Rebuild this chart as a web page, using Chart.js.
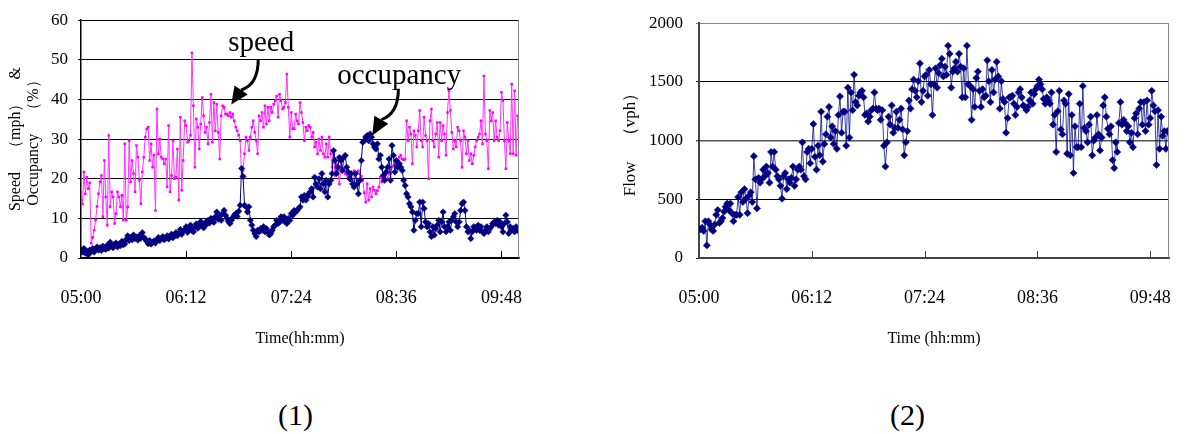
<!DOCTYPE html>
<html>
<head>
<meta charset="utf-8">
<title>Speed, occupancy and flow, 05:00-10:00</title>
<script src="https://cdn.jsdelivr.net/npm/chart.js@4.4.1/dist/chart.umd.min.js"></script>
<style>
  html, body { margin: 0; padding: 0; background: #fff; }
  body { position: relative; width: 1185px; height: 434px; overflow: hidden; }
  canvas { position: absolute; top: 0; }
  #speedChart { left: 0; }
  #flowChart { left: 600px; }
  .caption { position: absolute; top: 398px; font: 30px "Liberation Serif", serif; color: #000; }
</style>
</head>
<body>
<canvas id="speedChart" width="545" height="360"></canvas>
<canvas id="flowChart" width="585" height="360"></canvas>
<div class="caption" style="left:278px">(1)</div>
<div class="caption" style="left:890px">(2)</div>
<script>
// one sample per minute, 05:00 (minute 0) to 10:00 (minute 300)
const SPAN = 300;
const TICK_STEP = 72;
const timeTicks = ['05:00', '06:12', '07:24', '08:36', '09:48'];

// speed (mph)
const speed = [
    14.6, 13.6, 21.7, 16.2, 20.4, 17.5, 19.0, 3.7, 5.2, 7.0,
    9.5, 13.0, 16.2, 19.2, 20.8, 10.4, 24.6, 15.4, 8.3, 30.9,
    12.9, 16.7, 15.4, 8.7, 11.2, 16.7, 15.4, 12.9, 15.8, 9.5,
    28.8, 9.5, 12.9, 29.6, 19.2, 24.6, 21.3, 16.7, 28.4, 25.4,
    19.6, 13.7, 21.7, 25.4, 30.5, 32.6, 33.0, 24.6, 28.8, 22.9,
    26.0, 12.0, 37.6, 26.3, 30.0, 25.4, 25.0, 23.8, 25.0, 17.9,
    33.4, 16.7, 20.8, 29.6, 20.0, 20.4, 27.5, 14.6, 35.5, 17.1,
    24.6, 34.6, 33.4, 29.2, 29.6, 31.0, 51.8, 38.4, 22.9, 35.1,
    33.0, 27.5, 33.8, 40.5, 35.9, 31.7, 33.0, 28.8, 34.2, 41.3,
    29.2, 39.2, 32.1, 38.8, 31.7, 25.0, 35.9, 38.4, 38.0, 36.3,
    36.3, 35.9, 36.7, 35.5, 36.3, 34.6, 33.0, 32.1, 31.0, 29.6,
    20.4, 22.1, 26.3, 30.5, 29.6, 27.1, 30.5, 33.0, 34.6, 31.7,
    29.6, 26.3, 35.9, 34.6, 36.7, 33.0, 38.4, 33.8, 38.0, 34.6,
    38.0, 36.7, 38.8, 39.7, 40.9, 35.5, 41.3, 39.7, 37.6, 38.0,
    39.2, 46.4, 38.0, 30.5, 36.7, 32.6, 32.6, 36.3, 34.6, 33.8,
    39.2, 36.7, 34.2, 29.6, 33.0, 32.1, 33.4, 33.0, 30.5, 31.7,
    28.0, 29.2, 26.3, 30.0, 27.1, 30.5, 26.3, 25.4, 28.8, 25.4,
    30.5, 26.3, 22.9, 26.3, 20.8, 23.8, 21.7, 18.7, 23.3, 21.7,
    22.5, 21.3, 20.9, 20.4, 21.3, 19.5, 19.6, 22.0, 20.9, 21.6,
    22.0, 21.2, 20.6, 19.6, 16.5, 14.1, 18.7, 14.6, 17.5, 15.4,
    17.9, 17.1, 16.2, 17.0, 17.9, 20.4, 19.2, 20.4, 19.6, 21.3,
    20.0, 21.7, 21.3, 22.9, 23.3, 24.6, 23.8, 23.3, 25.4, 25.9,
    25.0, 24.8, 25.0, 34.6, 29.6, 33.0, 31.3, 23.8, 32.1, 30.9,
    28.0, 32.1, 37.2, 29.6, 28.0, 35.5, 30.9, 29.6, 20.0, 34.6,
    37.6, 29.6, 28.0, 31.3, 34.2, 25.4, 34.2, 29.6, 33.4, 31.3,
    25.9, 36.7, 42.2, 37.2, 31.7, 27.5, 29.6, 28.0, 33.0, 32.1,
    29.6, 22.9, 32.1, 30.5, 26.3, 29.6, 24.6, 26.3, 23.8, 25.9,
    28.0, 29.6, 30.5, 31.3, 34.6, 28.8, 45.9, 31.3, 29.6, 22.5,
    37.2, 34.6, 36.7, 29.6, 34.6, 30.5, 29.6, 32.1, 41.8, 39.7,
    29.6, 22.5, 34.2, 29.6, 26.3, 43.9, 26.3, 42.2, 25.9, 35.9,
    35.1
];

// occupancy (%)
const occupancy = [
    2.0, 1.5, 2.4, 1.2, 1.8, 0.8, 2.0, 1.6, 2.4, 1.5,
    2.2, 2.8, 2.0, 2.6, 1.9, 3.0, 2.4, 2.2, 3.2, 2.5,
    4.0, 3.0, 2.6, 3.4, 3.8, 2.8, 3.5, 3.1, 4.2, 3.3,
    3.6, 4.7, 5.6, 4.4, 5.2, 4.6, 5.8, 4.9, 5.3, 4.5,
    5.6, 5.0, 6.4, 5.2, 4.8, 4.2, 3.6, 4.4, 3.5, 4.0,
    4.3, 3.8, 4.6, 5.2, 4.4, 4.9, 5.4, 4.6, 5.0, 5.6,
    4.8, 5.3, 6.0, 5.1, 5.8, 6.4, 5.6, 6.2, 7.2, 6.0,
    6.8, 7.2, 7.9, 6.5, 7.4, 8.3, 7.0, 6.6, 7.8, 8.6,
    7.5, 8.0, 9.2, 8.4, 7.6, 8.9, 8.5, 9.5, 8.8, 10.0,
    9.6, 9.0, 10.4, 11.6, 9.8, 10.6, 9.5, 11.2, 12.0, 10.8,
    10.0, 9.2, 8.7, 9.5, 10.2, 10.8, 11.2, 10.5, 11.8, 13.3,
    22.6, 20.6, 13.3, 12.9, 11.6, 12.9, 9.5, 8.3, 7.0, 6.2,
    5.4, 7.0, 6.6, 7.4, 7.0, 7.9, 6.6, 7.4, 6.6, 5.8,
    6.2, 7.0, 7.9, 8.3, 9.5, 8.7, 9.1, 10.4, 9.5, 10.4,
    9.1, 8.7, 10.0, 9.5, 11.2, 10.8, 12.0, 11.6, 12.0, 12.5,
    12.9, 15.4, 14.6, 15.8, 14.6, 15.4, 16.2, 16.7, 17.5, 15.4,
    20.4, 18.7, 17.9, 20.0, 17.5, 21.3, 18.7, 16.7, 19.6, 15.4,
    18.7, 19.6, 21.3, 27.1, 24.6, 21.3, 22.9, 25.4, 24.6, 22.1,
    25.4, 25.9, 22.9, 21.7, 20.0, 21.3, 18.7, 17.9, 21.3, 18.7,
    16.2, 19.6, 24.6, 29.2, 29.6, 30.5, 30.9, 29.6, 31.3, 30.5,
    28.8, 28.0, 27.5, 28.8, 25.0, 25.9, 22.9, 20.8, 19.6, 21.7,
    22.9, 25.0, 19.6, 28.4, 25.9, 21.7, 24.6, 22.9, 23.8, 22.9,
    22.1, 19.6, 18.3, 16.2, 15.4, 13.7, 12.9, 11.6, 7.0, 9.5,
    11.2, 11.2, 14.1, 7.9, 14.1, 12.5, 9.1, 7.9, 8.7, 6.6,
    5.4, 7.9, 5.8, 7.4, 8.3, 9.5, 6.6, 9.1, 11.6, 7.9,
    6.6, 7.9, 9.1, 7.0, 9.5, 10.4, 11.2, 9.1, 7.9, 9.1,
    12.0, 13.7, 14.1, 12.0, 7.9, 6.6, 7.0, 4.9, 6.6, 7.9,
    7.4, 7.0, 8.3, 7.0, 7.9, 6.6, 6.2, 7.0, 7.9, 6.6,
    7.4, 7.9, 8.7, 9.1, 8.7, 9.5, 8.3, 9.1, 7.9, 6.6,
    8.7, 10.8, 9.1, 6.2, 7.9, 7.0, 7.4, 6.6, 7.9, 7.0,
    7.2
];

// flow (vph)
const flow = [
    250, 244, 258, 231, 313, 107, 313, 285, 244, 231,
    285, 368, 409, 299, 313, 340, 395, 436, 464, 409,
    464, 382, 313, 368, 368, 519, 368, 560, 477, 587,
    505, 382, 532, 560, 477, 867, 670, 423, 683, 642,
    670, 752, 697, 779, 724, 642, 903, 779, 903, 752,
    697, 670, 615, 505, 697, 724, 587, 670, 642, 683,
    779, 615, 670, 752, 779, 752, 985, 697, 670, 903,
    930, 807, 930, 1141, 862, 752, 957, 875, 1246, 821,
    971, 1054, 1204, 1287, 1026, 1122, 971, 1081, 930, 1218,
    1377, 1067, 1246, 1246, 957, 1451, 1026, 1410, 1259, 1561,
    1328, 1300, 1383, 1410, 1424, 1369, 1218, 1232, 1163, 1204,
    1259, 1273, 1410, 1273, 1259, 1273, 1177, 1259, 957, 779,
    985, 1204, 1136, 1300, 1067, 1108, 1246, 1108, 1177, 1273,
    1095, 875, 985, 1081, 1342, 1273, 1438, 1520, 1424, 1369,
    1506, 1657, 1328, 1424, 1547, 1561, 1383, 1602, 1479, 1218,
    1479, 1616, 1451, 1575, 1643, 1698, 1547, 1630, 1561, 1808,
    1739, 1451, 1588, 1616, 1671, 1588, 1739, 1630, 1369, 1616,
    1369, 1808, 1479, 1465, 1177, 1438, 1287, 1534, 1588, 1424,
    1287, 1438, 1369, 1383, 1684, 1506, 1328, 1602, 1410, 1520,
    1671, 1547, 1273, 1506, 1355, 1328, 1067, 1191, 1369, 1369,
    1383, 1314, 1218, 1287, 1410, 1438, 1369, 1300, 1287, 1259,
    1287, 1342, 1410, 1314, 1396, 1438, 1465, 1520, 1480, 1438,
    1355, 1314, 1369, 1342, 1314, 1410, 1136, 1218, 903, 1250,
    1424, 1095, 1054, 1342, 1314, 889, 1396, 875, 1218, 724,
    1122, 944, 944, 1314, 944, 1465, 1108, 1081, 985, 1136,
    1204, 875, 999, 1026, 1218, 1054, 916, 1026, 1300, 1369,
    1204, 1100, 1054, 1122, 834, 766, 985, 903, 1150, 1328,
    1136, 1177, 1150, 1081, 1122, 985, 1067, 944, 1191, 1232,
    1054, 1273, 1328, 1136, 1328, 1081, 1342, 1136, 1191, 1424,
    1300, 1250, 793, 1259, 930, 1204, 1040, 1081, 930, 1081,
    1067
];

const SERIF = '"Liberation Serif", "Times New Roman", serif';
Chart.defaults.font.family = SERIF;
Chart.defaults.color = '#000';

function toPoints(values) {
    return values.map((v, i) => ({ x: i, y: v }));
}

// grey right edge and short x tick marks pointing up into the plot
const frame = {
    id: 'frame',
    afterDraw(chart, args, opts) {
        const { ctx, chartArea: a } = chart;
        const x = chart.scales.x;
        ctx.save();
        ctx.lineWidth = 1;
        ctx.strokeStyle = opts.edgeColor;
        ctx.beginPath();
        ctx.moveTo(a.right - 0.5, a.top);
        ctx.lineTo(a.right - 0.5, a.bottom);
        ctx.stroke();
        ctx.strokeStyle = opts.tickColor;
        x.ticks.forEach((t, i) => {
            if (i === 0) return;
            const px = Math.round(x.getPixelForValue(t.value)) + 0.5;
            ctx.beginPath();
            ctx.moveTo(px, a.bottom);
            ctx.lineTo(px, a.bottom - 7);
            ctx.stroke();
        });
        ctx.restore();
    }
};

// "speed" / "occupancy" labels with curved arrows (left chart)
const callouts = {
    id: 'callouts',
    afterDatasetsDraw(chart) {
        const { ctx } = chart;
        const { x, y } = chart.scales;
        const p = (t, v) => [x.getPixelForValue(t), y.getPixelForValue(v)];

        function arrow(start, ctrl, base, tip) {
            ctx.lineWidth = 3;
            ctx.beginPath();
            ctx.moveTo(...start);
            ctx.quadraticCurveTo(ctrl[0], ctrl[1], base[0], base[1]);
            ctx.stroke();
            const dx = tip[0] - base[0], dy = tip[1] - base[1];
            const len = Math.hypot(dx, dy);
            const nx = -dy / len * 8, ny = dx / len * 8;
            ctx.beginPath();
            ctx.moveTo(tip[0], tip[1]);
            ctx.lineTo(base[0] + nx, base[1] + ny);
            ctx.lineTo(base[0] - nx, base[1] - ny);
            ctx.closePath();
            ctx.fill();
        }

        ctx.save();
        ctx.fillStyle = '#000';
        ctx.strokeStyle = '#000';
        ctx.font = '29px ' + SERIF;
        ctx.textAlign = 'left';
        ctx.textBaseline = 'alphabetic';
        ctx.fillText('speed', ...p(100.8, 52.2));
        ctx.fillText('occupancy', ...p(175.5, 43.9));
        arrow(p(121.4, 50.2), p(121.4, 43.7), p(109.7, 42.4), p(102.9, 38.7));
        arrow(p(217.4, 42.7), p(217.4, 36.4), p(205.7, 34.9), p(199.5, 30.9));
        ctx.restore();
    }
};

function timeAxis(title, color, width) {
    return {
        type: 'linear',
        min: 0,
        max: SPAN,
        afterFit: (scale) => {
            scale.height = 96;
            // labels sit well inside the canvas, so no extra side padding
            scale.paddingLeft = 0;
            scale.paddingRight = 0;
        },
        grid: { display: false, drawTicks: false },
        border: { color: color, width: width },
        ticks: {
            stepSize: TICK_STEP,
            includeBounds: false,
            maxRotation: 0,
            autoSkip: false,
            padding: 29,
            font: { size: 18 },
            callback: (v) => timeTicks[v / TICK_STEP]
        },
        title: {
            display: true,
            text: title,
            font: { size: 16 },
            padding: { top: 0, bottom: 6 }
        }
    };
}

new Chart(document.getElementById('speedChart'), {
    type: 'line',
    data: {
        datasets: [
            {
                label: 'occupancy',
                data: toPoints(occupancy),
                borderColor: '#000080',
                borderWidth: 1,
                backgroundColor: '#000080',
                pointStyle: 'rectRot',
                pointRadius: 3.2,
                pointBorderWidth: 0.5,
                tension: 0
            },
            {
                label: 'speed',
                data: toPoints(speed),
                borderColor: '#ff33ff',
                borderWidth: 1,
                backgroundColor: '#ff00ff',
                pointStyle: 'rect',
                pointRadius: 1.8,
                pointBorderWidth: 0,
                tension: 0
            }
        ]
    },
    options: {
        responsive: false,
        animation: false,
        layout: { padding: { top: 19, right: 26, bottom: 6, left: 0 } },
        scales: {
            x: timeAxis('Time(hh:mm)', '#000', 1.5),
            y: {
                min: 0,
                max: 60,
                afterFit: (scale) => { scale.width = 81; },
                grid: { color: '#000', lineWidth: 1, tickLength: 3 },
                border: { color: '#000', width: 1.5 },
                ticks: { stepSize: 10, padding: 10, font: { size: 17 }, callback: (v) => String(v) },
                title: {
                    display: true,
                    text: ['Speed\u3000（mph）\u3000&', 'Occupancy\u3000（%）'],
                    font: { size: 16, lineHeight: 1.1 },
                    padding: { top: 7, bottom: 0 }
                }
            }
        },
        plugins: {
            legend: { display: false },
            tooltip: { enabled: false },
            frame: { edgeColor: '#888', tickColor: '#000' }
        }
    },
    plugins: [frame, callouts]
});

new Chart(document.getElementById('flowChart'), {
    type: 'line',
    data: {
        datasets: [{
            label: 'flow',
            data: toPoints(flow),
            borderColor: 'rgba(0, 0, 128, 0.75)',
            borderWidth: 1,
            backgroundColor: '#000080',
            pointBorderColor: '#000080',
            pointStyle: 'rectRot',
            pointRadius: 3.6,
            pointBorderWidth: 0.5,
            tension: 0
        }]
    },
    options: {
        responsive: false,
        animation: false,
        layout: { padding: { top: 15, right: 16, bottom: 6, left: 0 } },
        scales: {
            x: timeAxis('Time (hh:mm)', '#444', 2),
            y: {
                min: 0,
                max: 2000,
                afterFit: (scale) => { scale.width = 99; },
                grid: {
                    color: (c) => c.tick.value === 2000 ? '#888' : (c.tick.value === 1000 ? '#555' : '#000'),
                    lineWidth: (c) => c.tick.value === 1000 ? 1.5 : 1,
                    tickLength: 3
                },
                border: { color: '#444', width: 2 },
                ticks: { stepSize: 500, padding: 13, font: { size: 17 }, callback: (v) => String(v) },
                title: {
                    display: true,
                    text: 'Flow\u3000（vph）',
                    font: { size: 17, lineHeight: 1.1 },
                    padding: { top: 21, bottom: 0 }
                }
            }
        },
        plugins: {
            legend: { display: false },
            tooltip: { enabled: false },
            frame: { edgeColor: '#888', tickColor: '#444' }
        }
    },
    plugins: [frame]
});
</script>
</body>
</html>
